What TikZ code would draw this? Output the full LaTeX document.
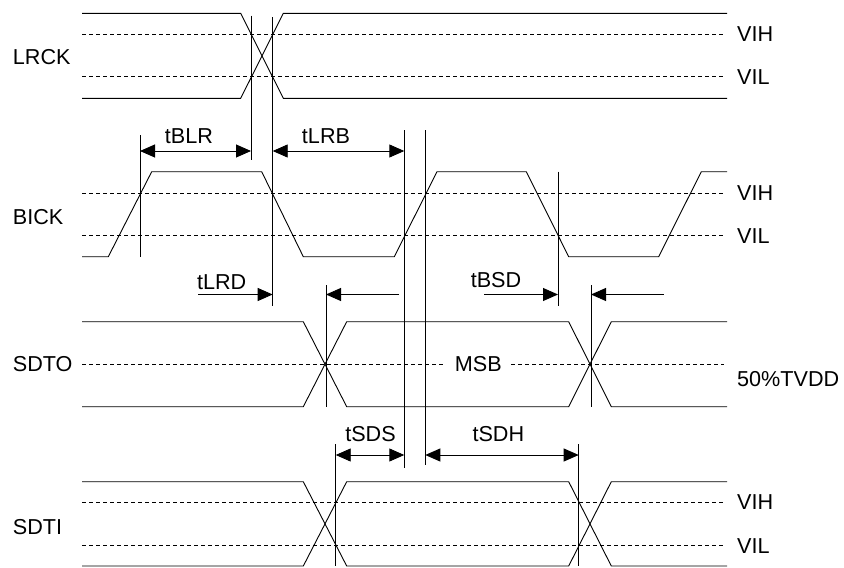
\documentclass[tikz,border=0pt]{standalone}
\usepackage{fontspec}
\setmainfont{Liberation Sans}
\usetikzlibrary{arrows.meta}
\begin{document}
\begin{tikzpicture}[x=1pt,y=-1pt,
  wave/.style={line width=0.9pt},
  thr/.style={line width=0.8pt, dash pattern=on 4pt off 3pt},
  vline/.style={line width=0.9pt},
  dimboth/.style={line width=0.9pt, {Triangle[length=15pt,width=13pt]}-{Triangle[length=15pt,width=13pt]}},
  dimone/.style={line width=0.9pt, -{Triangle[length=15pt,width=13pt]}},
  lbl/.style={inner sep=0pt, font=\fontsize{21.6}{26}\selectfont}]
\useasboundingbox (0,0) rectangle (844,568);

% ---------- LRCK ----------
\draw[thr] (82,34) -- (724,34);
\draw[thr] (82,76.7) -- (724,76.7);
\draw[wave] (82,13.3) -- (240.7,13.3) -- (283.3,98.3) -- (727,98.3);
\draw[wave] (82,98.3) -- (240.7,98.3) -- (283.3,13.3) -- (727,13.3);
\node[lbl,anchor=west] (lrck) at (12.7,56.7) {LRCK};
\node[lbl,anchor=west] (vih1) at (737,34) {VIH};
\node[lbl,anchor=west] (vil1) at (737,77) {VIL};

% ---------- BICK ----------
\draw[thr] (82,193.3) -- (724,193.3);
\draw[thr] (82,235.7) -- (724,235.7);
\draw[wave] (82,256.7) -- (108.3,256.7) -- (151.7,171.7) -- (261.7,171.7) -- (303.3,256.7)
  -- (394.3,256.7) -- (437,171.7) -- (526.3,171.7) -- (568.7,256.7) -- (658.7,256.7)
  -- (701.3,171.7) -- (727,171.7);
\node[lbl,anchor=west] (bick) at (12.7,216.7) {BICK};
\node[lbl,anchor=west] (vih2) at (737,193.3) {VIH};
\node[lbl,anchor=west] (vil2) at (737,236) {VIL};

% ---------- SDTO ----------
\draw[thr] (82,364.3) -- (444,364.3);
\draw[thr] (511,364.3) -- (724,364.3);
\draw[wave] (82,321.7) -- (303.3,321.7) -- (346.7,406.7) -- (568.7,406.7) -- (611.3,321.7) -- (727,321.7);
\draw[wave] (82,406.7) -- (303.3,406.7) -- (346.7,321.7) -- (568.7,321.7) -- (611.3,406.7) -- (727,406.7);
\node[lbl,anchor=west] (sdto) at (12.7,364.3) {SDTO};
\node[lbl] (msb) at (478.3,364.3) {MSB};
\node[lbl,anchor=west] (tvdd) at (737,379.3) {50\%TVDD};

% ---------- SDTI ----------
\draw[thr] (82,502.3) -- (724,502.3);
\draw[thr] (82,545.7) -- (724,545.7);
\draw[wave] (82,481.7) -- (303.3,481.7) -- (346.7,566) -- (568.7,566) -- (611.3,481.7) -- (727,481.7);
\draw[wave] (82,566) -- (303.3,566) -- (346.7,481.7) -- (568.7,481.7) -- (611.3,566) -- (727,566);
\node[lbl,anchor=west] (sdti) at (12.7,526.7) {SDTI};
\node[lbl,anchor=west] (vih3) at (737,502.3) {VIH};
\node[lbl,anchor=west] (vil3) at (737,545.7) {VIL};

% ---------- marker lines ----------
\coordinate (m1t) at (140,135);   \coordinate (m1b) at (140,256.7);
\coordinate (m2t) at (251,15.7);  \coordinate (m2b) at (251,160);
\coordinate (m3t) at (272.7,17.3);\coordinate (m3b) at (272.7,306);
\coordinate (m4t) at (404.3,130); \coordinate (m4b) at (404.3,468.3);
\coordinate (m5t) at (425.3,130); \coordinate (m5b) at (425.3,465);
\coordinate (m6t) at (558,171.7); \coordinate (m6b) at (558,306);
\coordinate (m7t) at (326,285);   \coordinate (m7b) at (326,406.7);
\coordinate (m8t) at (591,285);   \coordinate (m8b) at (591,406.7);
\coordinate (m9t) at (335.7,444.3);\coordinate (m9b) at (335.7,566);
\coordinate (m10t) at (578.7,444.3);\coordinate (m10b) at (578.7,566);
\foreach \i in {1,...,10} \draw[vline] (m\i t) -- (m\i b);

% ---------- timing arrows ----------
\coordinate (blrA) at (140,151);   \coordinate (blrB) at (251,151);
\coordinate (lrbA) at (272.7,151); \coordinate (lrbB) at (404.3,151);
\coordinate (lrdS) at (198.3,294.5); \coordinate (lrdE) at (272.7,294.5);
\coordinate (lrdS2) at (399,294.5);  \coordinate (lrdE2) at (326,294.5);
\coordinate (bsdS) at (484,294.5);   \coordinate (bsdE) at (558,294.5);
\coordinate (bsdS2) at (663.5,294.5);\coordinate (bsdE2) at (591,294.5);
\coordinate (sdsA) at (335.7,455); \coordinate (sdsB) at (404.3,455);
\coordinate (sdhA) at (425.3,455); \coordinate (sdhB) at (578.7,455);

\draw[dimboth] (blrA) -- (blrB);
\draw[dimboth] (lrbA) -- (lrbB);
\draw[dimone] (lrdS) -- (lrdE);
\draw[dimone] (lrdS2) -- (lrdE2);
\draw[dimone] (bsdS) -- (bsdE);
\draw[dimone] (bsdS2) -- (bsdE2);
\draw[dimboth] (sdsA) -- (sdsB);
\draw[dimboth] (sdhA) -- (sdhB);

\node[lbl] (tblr) at (189,136) {tBLR};
\node[lbl] (tlrb) at (326,136) {tLRB};
\node[lbl] (tlrd) at (221.7,281.7) {tLRD};
\node[lbl] (tbsd) at (496,280) {tBSD};
\node[lbl] (tsds) at (370.5,434) {tSDS};
\node[lbl] (tsdh) at (498.3,434) {tSDH};
\end{tikzpicture}
\end{document}
